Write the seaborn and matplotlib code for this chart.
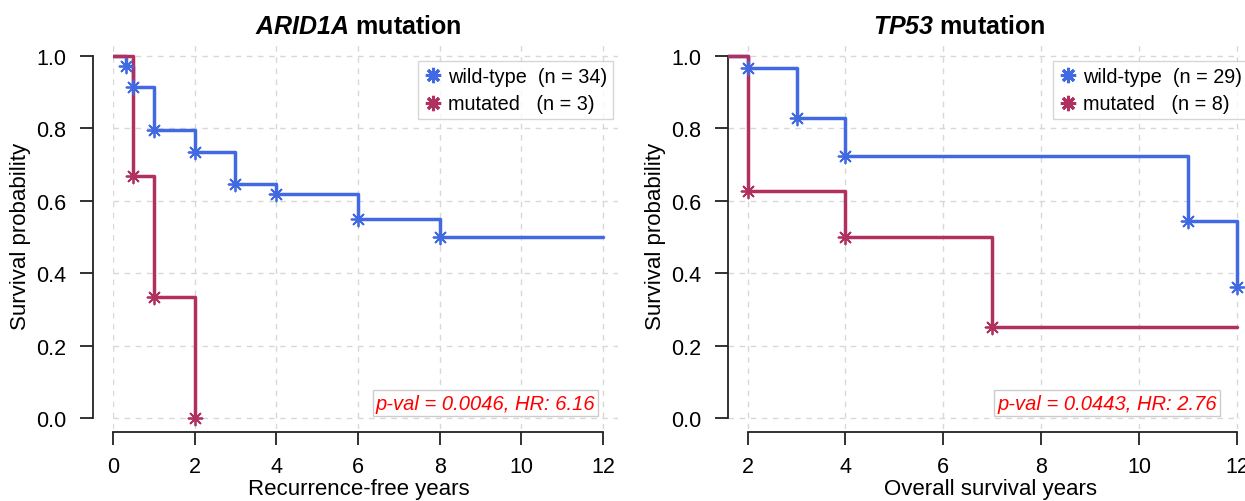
import matplotlib
matplotlib.use("Agg")
import matplotlib.pyplot as plt
from matplotlib.lines import Line2D
import seaborn as sns
import pandas as pd

# Kaplan-Meier step curves
arid_wt_t = [0, 0.33, 0.5, 1, 2, 3, 4, 6, 8, 12]
arid_wt_s = [1.0, 0.971, 0.912, 0.794, 0.735, 0.647, 0.618, 0.55, 0.50, 0.50]
arid_mut_t = [0, 0.5, 1, 2]
arid_mut_s = [1.0, 0.667, 0.333, 0.0]

tp53_wt_t = [0, 2, 3, 4, 11, 12]
tp53_wt_s = [1.0, 0.966, 0.828, 0.724, 0.543, 0.362]
tp53_mut_t = [0, 2, 4, 7, 12]
tp53_mut_s = [1.0, 0.625, 0.50, 0.25, 0.25]

blue = "#4169E1"
red = "#B03060"
star = (8, 2, 0)

sns.set_style("ticks")
plt.rcParams["font.family"] = ["Liberation Sans", "DejaVu Sans"]
plt.rcParams["mathtext.fontset"] = "custom"
plt.rcParams["mathtext.it"] = "Liberation Sans:italic:bold"
plt.rcParams["mathtext.rm"] = "Liberation Sans:italic:bold"
for k in ("text.color", "axes.labelcolor", "xtick.color", "ytick.color"):
    plt.rcParams[k] = "black"

fig = plt.figure(figsize=(12.45, 5.02), dpi=100)
ax1 = fig.add_axes([113 / 1245, 72 / 502, 505 / 1245, 388 / 502])
ax2 = fig.add_axes([728 / 1245, 72 / 502, 512 / 1245, 388 / 502])


def km_panel(ax, wt_t, wt_s, mut_t, mut_s, events_wt, events_mut):
    d_wt = pd.DataFrame({"t": wt_t, "s": wt_s})
    d_mut = pd.DataFrame({"t": mut_t, "s": mut_s})
    sns.lineplot(data=d_wt, x="t", y="s", ax=ax, color=blue, lw=2.5,
                 drawstyle="steps-post", estimator=None, zorder=3)
    sns.lineplot(data=d_mut, x="t", y="s", ax=ax, color=red, lw=2.5,
                 drawstyle="steps-post", estimator=None, zorder=3)
    sns.scatterplot(data=d_wt.iloc[events_wt], x="t", y="s", ax=ax, color=blue,
                    marker=star, s=100, linewidth=1.3, zorder=4, clip_on=False)
    sns.scatterplot(data=d_mut.iloc[events_mut], x="t", y="s", ax=ax, color=red,
                    marker=star, s=100, linewidth=1.3, zorder=4, clip_on=False)


km_panel(ax1, arid_wt_t, arid_wt_s, arid_mut_t, arid_mut_s,
         slice(1, 9), slice(1, 4))
km_panel(ax2, tp53_wt_t, tp53_wt_s, tp53_mut_t, tp53_mut_s,
         slice(1, 6), slice(1, 4))

ax1.set_xlim(0, 12.37)
ax2.set_xlim(1.6, 12.06)
for ax in (ax1, ax2):
    ax.set_ylim(-0.03, 1.04)
    ax.set_yticks([0, 0.2, 0.4, 0.6, 0.8, 1.0])
    ax.set_yticklabels(["0.0", "0.2", "0.4", "0.6", "0.8", "1.0"])
    ax.grid(True, ls=(0, (4, 4)), color="#d8d8d8", lw=1)
    ax.set_axisbelow(True)
    for side in ("top", "right"):
        ax.spines[side].set_visible(False)
    ax.spines["bottom"].set_position(("outward", 2.2))
    ax.spines["left"].set_bounds(0, 1)
    for side in ("left", "bottom"):
        ax.spines[side].set_color("#222222")
        ax.spines[side].set_linewidth(1.3)
    ax.tick_params(length=9.5, width=1.3, color="#222222", labelsize=15.5)
    ax.tick_params(axis="x", pad=7.5)
    ax.tick_params(axis="y", pad=9.5)
    ax.set_ylabel("Survival probability", fontsize=16)

ax1.spines["left"].set_position(("outward", 14.4))
ax1.set_xticks(range(0, 13, 2))
ax1.spines["bottom"].set_bounds(0, 12)
ax2.set_xticks(range(2, 13, 2))
ax2.spines["bottom"].set_bounds(2, 12)

ax1.set_xlabel("Recurrence-free years", fontsize=16, labelpad=1, x=0.486)
ax2.set_xlabel("Overall survival years", fontsize=16, labelpad=1, x=0.512)
ax1.set_title(r"$ARID1A$ mutation", fontsize=18, fontweight="bold", x=0.485)
ax2.set_title(r"$TP53$ mutation", fontsize=18, fontweight="bold", x=0.451)

handles = [Line2D([], [], ls="none", marker=star, color=blue, ms=11, mew=2.2),
           Line2D([], [], ls="none", marker=star, color=red, ms=11, mew=2.2)]
legend_labels = [["wild-type  (n = 34)", "mutated   (n = 3)"],
                 ["wild-type  (n = 29)", "mutated   (n = 8)"]]
pvals = ["p-val = 0.0046, HR: 6.16", "p-val = 0.0443, HR: 2.76"]
for ax, labs, anchor, pv in zip((ax1, ax2), legend_labels, (0.99, 1.016), pvals):
    leg = ax.legend(handles, labs, loc="upper right", bbox_to_anchor=(anchor, 0.948),
                    borderaxespad=0, fontsize=14.3, frameon=True, fancybox=False,
                    handlelength=0.9, handletextpad=0.3, labelspacing=0.42,
                    borderpad=0.3)
    leg.get_frame().set_edgecolor("#cccccc")
    leg.get_frame().set_linewidth(1)
    ax.text(0.955, 0.067, pv, transform=ax.transAxes, ha="right", va="center",
            fontsize=14.5, style="italic", color="red",
            bbox=dict(boxstyle="square,pad=0.15", fc="white", ec="#cccccc", lw=1))

fig.savefig("out.png", dpi=100)
